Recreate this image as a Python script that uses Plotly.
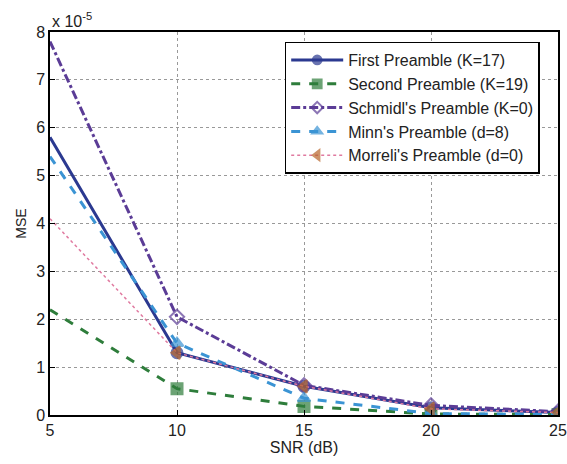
import plotly.graph_objects as go

snr = [5, 10, 15, 20, 25]
first = [5.8, 1.3, 0.6, 0.15, 0.05]
second = [2.2, 0.55, 0.18, 0.02, 0.01]
schmidl = [7.8, 2.05, 0.62, 0.2, 0.07]
minn = [5.4, 1.5, 0.35, 0.03, 0.01]
morreli = [4.1, 1.3, 0.6, 0.13, 0.05]
names = ["First Preamble (K=17)", "Second Preamble (K=19)", "Schmidl's Preamble (K=0)",
         "Minn's Preamble (d=8)", "Morreli's Preamble (d=0)"]
yticks = [0, 1, 2, 3, 4, 5, 6, 7, 8]
xticks = [5, 10, 15, 20, 25]

styles = [
    (first, "#2b3990", "solid", "circle", 3),
    (second, "#2e7d3b", "dash", "square", 3),
    (schmidl, "#5b3c96", "dashdot", "diamond-open", 3),
    (minn, "#3b94d4", "dash", "triangle-up", 3),
    (morreli, "#e07aa0", "dot", "triangle-left", 1.5),
]
marker_colors = ["#2b3990", "#2e7d3b", "#5b3c96", "#3b94d4", "#b8652a"]
FONT = "Liberation Sans, Arial"

fig = go.Figure()
for (vals, col, dash, sym, w), name, mc in zip(styles, names, marker_colors):
    fig.add_trace(go.Scatter(
        x=snr, y=vals, name=name, mode="lines+markers",
        line=dict(color=col, dash=dash, width=w),
        marker=dict(symbol=sym, size=[0] + [11] * (len(snr) - 1), color=mc,
                    line=dict(color=mc, width=2)),
    ))

axis_common = dict(showline=True, linecolor="black", linewidth=1.5, mirror=True,
                   showgrid=True, gridcolor="#999999", griddash="dot", gridwidth=1,
                   ticks="inside", ticklen=5, tickcolor="black", zeroline=False,
                   automargin=False,
                   tickfont=dict(family=FONT, size=16, color="#222"))
fig.update_xaxes(range=[5, 25], tickvals=xticks, title=dict(text="SNR (dB)", standoff=4,
                 font=dict(family=FONT, size=16, color="#222")), **axis_common)
fig.update_yaxes(range=[0, 8], tickvals=yticks, title=dict(text="MSE", standoff=6,
                 font=dict(family=FONT, size=14, color="#222")), **axis_common)

fig.add_annotation(xref="paper", yref="paper", x=0.0, y=1.0, xanchor="left", yanchor="bottom",
                   text="x 10<sup>-5</sup>", showarrow=False,
                   font=dict(family=FONT, size=16, color="#222"))

fig.update_layout(
    width=567, height=464,
    margin=dict(l=50, r=9, t=32, b=49),
    plot_bgcolor="white", paper_bgcolor="white",
    legend=dict(x=0.462, y=0.975, xanchor="left", yanchor="top",
                bgcolor="white", bordercolor="black", borderwidth=1.5,
                font=dict(family=FONT, size=16, color="#222"),
                tracegroupgap=0, itemwidth=52),
    showlegend=True,
)
fig.write_html("out.html", config={"displayModeBar": False},
               post_script="document.body.style.margin='0';")
